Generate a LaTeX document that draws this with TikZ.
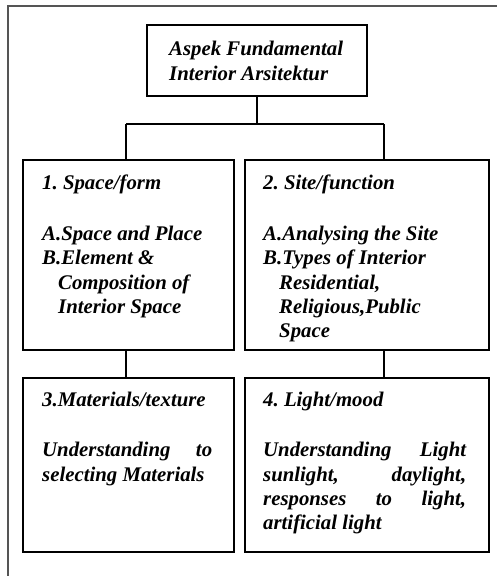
\documentclass[tikz,border=0pt]{standalone}
\usepackage{fontspec}
\setmainfont{Liberation Serif}
\definecolor{framecol}{RGB}{85,85,85}
\begin{document}
\frenchspacing
\begin{tikzpicture}[x=1pt,y=1pt,
  box/.style={draw=black, line width=1.1pt, rectangle, inner sep=0pt},
  conn/.style={draw=black, line width=1.4pt},
  txt/.style={anchor=north west, inner sep=0pt, align=left,
    font=\fontsize{20.8}{24.2}\selectfont\bfseries\itshape}]
\useasboundingbox (0,0) rectangle (496,576);
\fill[white] (0,0) rectangle (496,576);
% outer frame
\draw[framecol, line width=2pt] (8,0) -- (8,570) -- (497,570);
% boxes
\node[box, minimum width=220pt, minimum height=71pt] (top) at (257,515.5) {};
\node[box, minimum width=211pt, minimum height=190pt] (b1) at (128.5,321) {};
\node[box, minimum width=244pt, minimum height=190pt] (b2) at (367,321) {};
\node[box, minimum width=211pt, minimum height=174pt] (b3) at (128.5,111) {};
\node[box, minimum width=244pt, minimum height=174pt] (b4) at (367,111) {};
% connectors
\coordinate (busL) at (126,452);
\coordinate (busR) at (384,452);
\draw[conn] (top.south) -- (top.south |- busL);
\draw[conn] (busL) -- (busR);
\draw[conn] (busL) -- (busL |- b1.north);
\draw[conn] (busR) -- (busR |- b2.north);
\draw[conn] (b1.south -| busL) -- (b3.north -| busL);
\draw[conn] (b2.south -| busR) -- (b4.north -| busR);
% texts
\node[txt] (t0) at (169,537.15) {\strut Aspek Fundamental\\Interior Arsitektur};
\node[txt] (t1) at (42,403.15) {\strut 1. Space/form\\[26.5pt]
  A.Space and Place\\
  B.Element \&\\
  \hspace*{16pt}Composition of\\
  \hspace*{16pt}Interior Space};
\node[txt] (t2) at (263,403.15) {\strut 2. Site/function\\[26.5pt]
  A.Analysing the Site\\
  B.Types of Interior\\
  \hspace*{16pt}Residential,\\
  \hspace*{16pt}Religious,Public\\
  \hspace*{16pt}Space};
\node[txt] (t3) at (42,186.15) {\strut 3.Materials/texture\\[25.8pt]
  \makebox[170pt][s]{Understanding to}\\
  selecting Materials};
\node[txt] (t4) at (263,186.15) {\strut 4. Light/mood\\[25.8pt]
  \makebox[203pt][s]{Understanding Light}\\
  \makebox[203pt][s]{sunlight, daylight,}\\
  \makebox[203pt][s]{responses to light,}\\
  artificial light};
\end{tikzpicture}
\end{document}
